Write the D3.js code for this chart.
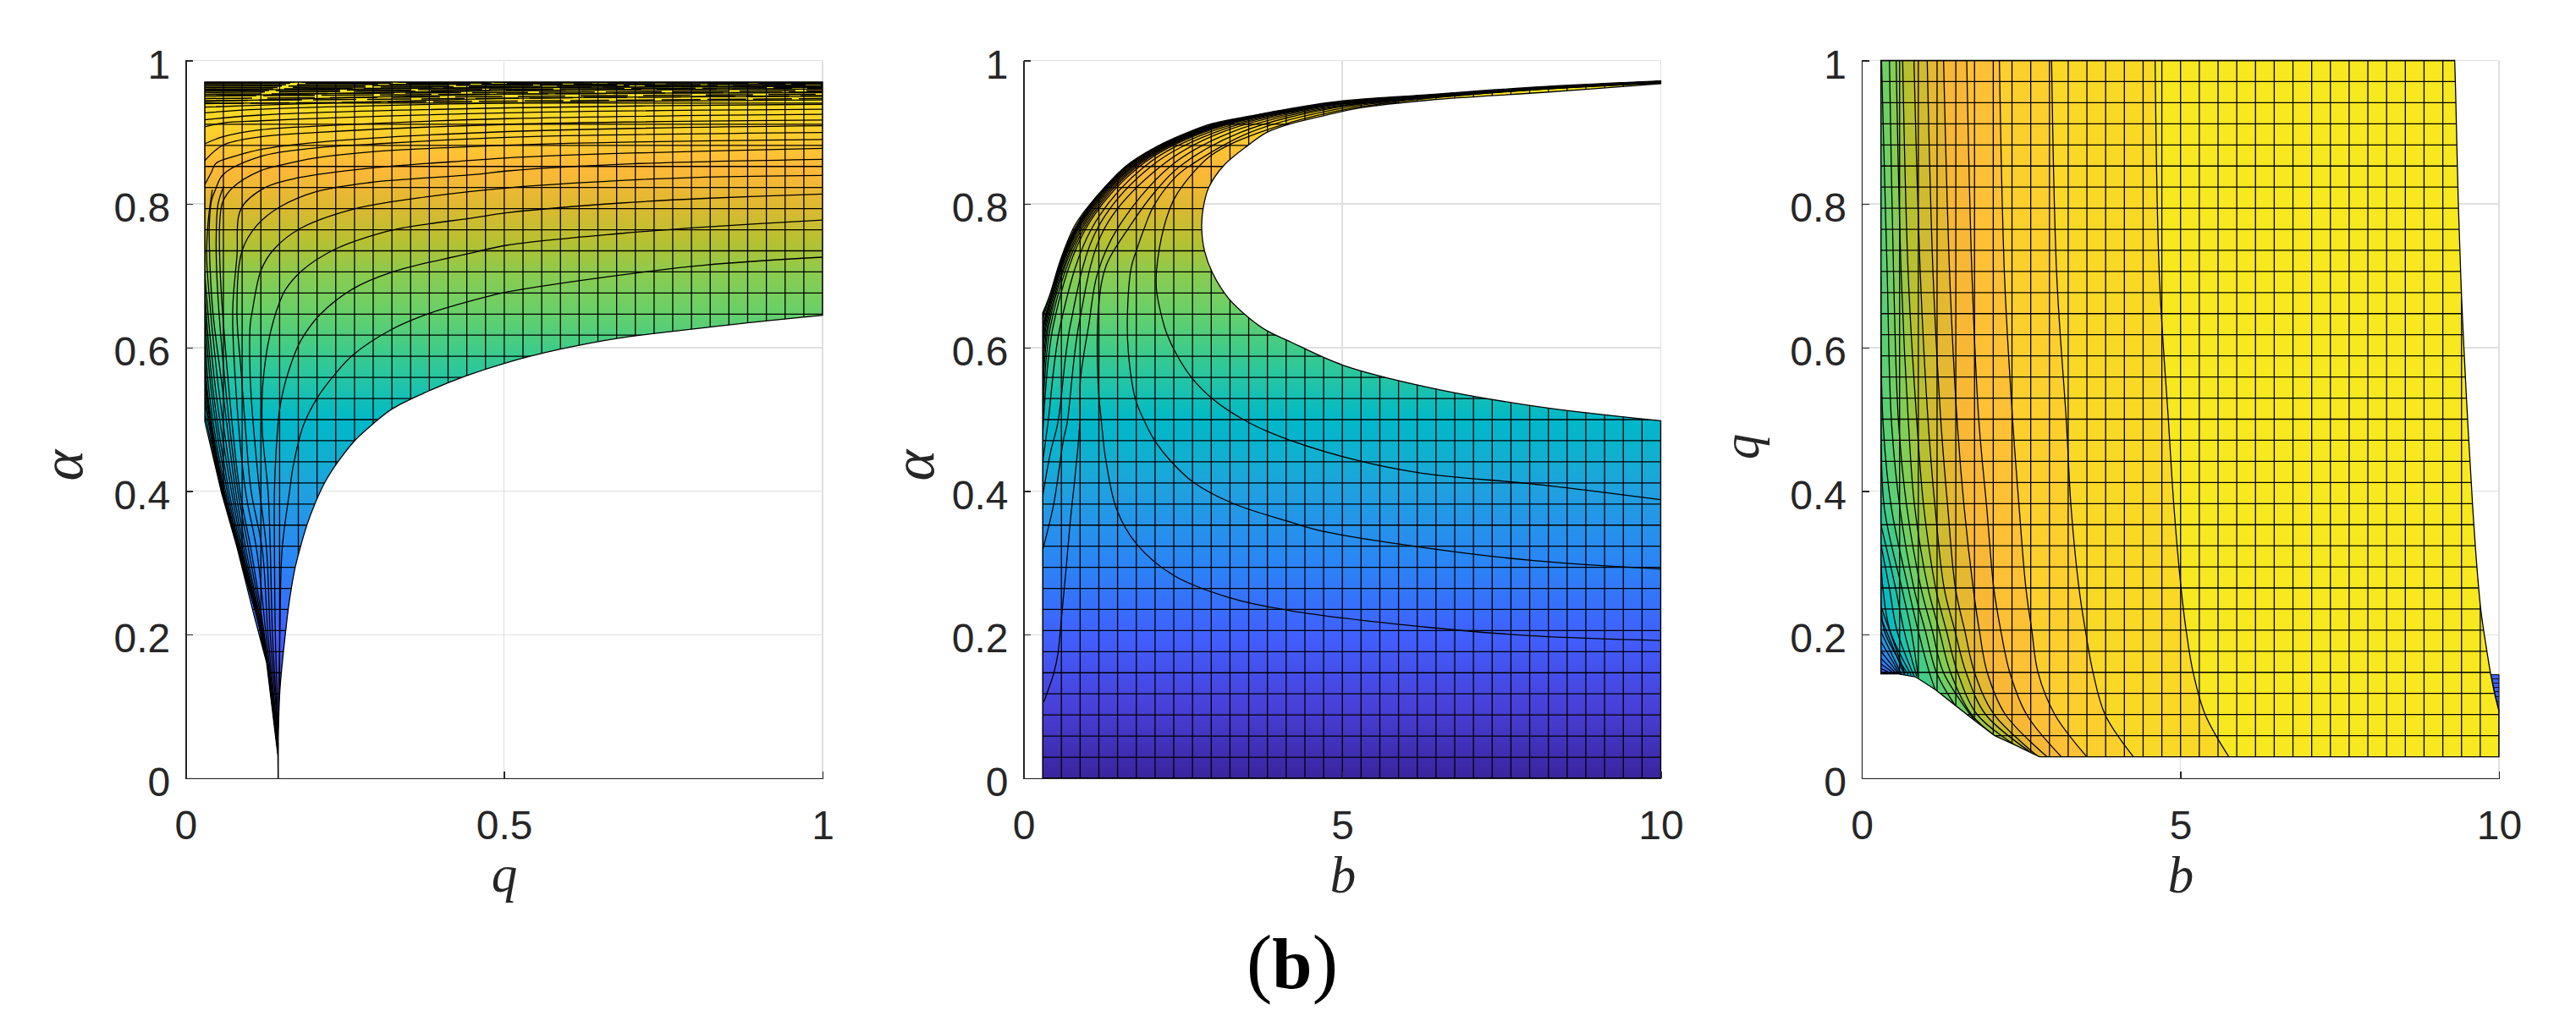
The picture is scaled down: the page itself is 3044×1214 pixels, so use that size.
<!DOCTYPE html>
<html><head><meta charset="utf-8">
<script src="https://cdnjs.cloudflare.com/ajax/libs/d3/7.8.5/d3.min.js"></script>
<style>html,body{margin:0;padding:0;background:#fff}svg{display:block}</style>
</head><body><svg id="c" width="3044" height="1214"></svg>
<script>
// ---------- mesh grid values ----------
const alphaGrid=[0,.0294,.0588,.0882,.1176,.1470,.1764,.2058,.2352,.2645,.2939,.3233,.3527,.3821,.4115,.4409,.4703,.4997,.5291,.5585,.5879,.6173,.6467,.6761,.7055,.7348,.7642,.7936,.8230,.8524,.8818,.9112,.9406,.9700];
const qGrid=[.03,.0594,.0888,.1182,.1476,.1770,.2064,.2358,.2652,.2945,.3239,.3533,.3827,.4121,.4415,.4709,.5003,.5297,.5591,.5885,.6179,.6473,.6767,.7061,.7355,.7648,.7942,.8236,.8530,.8824,.9118,.9412,.9706,1];
const bGrid=[.3,.5939,.8879,1.1818,1.4758,1.7697,2.0636,2.3576,2.6515,2.9455,3.2394,3.5333,3.8273,4.1212,4.4152,4.7091,5.0030,5.2970,5.5909,5.8848,6.1788,6.4727,6.7667,7.0606,7.3545,7.6485,7.9424,8.2364,8.5303,8.8242,9.1182,9.4121,9.7061,10];
const unitTicks=[0,.2,.4,.6,.8,1];
const qTicks=[0,.5,1];
const bTicks=[0,5,10];
// ---------- colour ramp read from the surface ----------
const rampAlpha=[0,.1,.2,.3,.4,.45,.5,.55,.6,.65,.7,.75,.8,.85,.9,.95,.97];
const rampColor=["#3a249e","#4840d8","#4060ff","#2a85f5","#20a0e0","#10b0d0","#00b8c8","#20c4a8","#40cc88","#68d068","#88cc50","#b8c030","#e0b830","#ffb838","#fdd02c","#f8e020","#f6f01e"];
// ---------- panel 1 (q, alpha) ----------
const p1Right=[[.03,.97],[1,.97],[1,.645]];
const p1Lower=[[1,.645],[.8822,.6344],[.7653,.6227],[.6767,.6128],[.5886,.5979],[.5058,.5795],[.44,.5605],[.3729,.5362],[.3242,.5146],[.2932,.4930],[.2645,.4694],[.2392,.4408],[.2188,.4125],[.2033,.3830],[.1905,.3528],[.1803,.3222],[.1723,.2947],[.1661,.2652],[.1612,.2357],[.1573,.2063],[.1537,.1768],[.1480,.1218],[.1453,.0432],[.1453,0]];
const p1Left=[[.1453,0],[.1449,.0316],[.1272,.1611],[.1072,.2279],[.0806,.3222],[.0567,.3968],[.0302,.4970]];
const p1Stem=[[.1453,0],[.1453,.05]];
const p1A=[[.1453,.03],[.1462,.1],[.1480,.2],[.1515,.3182],[.1634,.4007],[.1692,.4361],[.1847,.4911],[.2069,.5303],[.2334,.5618],[.2622,.5893],[.3220,.6246],[.3818,.6474],[.4682,.6698],[.5058,.6777],[.6829,.7012],[.8158,.7150],[1,.7260]];
const p1B=[[.1453,.03],[.1449,.0825],[.1409,.2],[.1395,.3261],[.1395,.4007],[.1427,.4636],[.1471,.5107],[.1537,.5421],[.1626,.5696],[.1759,.6011],[.1869,.6187],[.2112,.6462],[.2622,.6816],[.3242,.7052],[.4526,.7327],[.5058,.7428],[.6829,.7590],[.8158,.7680],[1,.7778]];
const p1C=[[.1453,.03],[.1427,.1],[.1364,.2],[.1330,.3182],[.1294,.4007],[.1205,.4832],[.1205,.5382],[.1236,.5696],[.1294,.6050],[.1382,.6384],[.1471,.6620],[.1560,.6796],[.1825,.7071],[.2334,.7366],[.2932,.7563],[.3375,.7661],[.4526,.7810],[.5058,.7880],[.6829,.8014],[.8158,.8079],[1,.8140]];
const p1D=[[.1453,.03],[.1418,.1],[.1329,.2],[.1272,.3182],[.1161,.4007],[.1108,.4478],[.1028,.5342],[.1006,.5893],[.1015,.6325],[.1050,.6521],[.1182,.7071],[.1382,.7366],[.1803,.7661],[.2666,.7935],[.3862,.8110],[.5058,.8226],[.6829,.8328],[.8158,.8376],[1,.8399]];
const p1E=[[.1453,.03],[.1400,.1],[.1294,.2],[.1205,.3182],[.1028,.4007],[.0947,.4793],[.0873,.5657],[.0806,.6521],[.0886,.7346],[.1116,.7700],[.1471,.7955],[.2046,.8171],[.2888,.8300],[.4526,.8410],[.5058,.8462],[.7,.8560],[1,.8623]];
const p1F=[[.1453,.03],[.139,.1],[.1263,.2],[.1116,.3182],[.0940,.4007],[.0790,.5421],[.0740,.6521],[.0806,.7268],[.0872,.7936],[.1249,.8230],[.1780,.8368],[.2888,.8500],[.4526,.8610],[.5058,.8644],[.7,.8710],[1,.8776]];
const p1G=[[.1453,.03],[.138,.1],[.1236,.2],[.1028,.3182],[.0851,.4007],[.0680,.5421],[.0541,.7111],[.0541,.7818],[.0585,.8034],[.0740,.8230],[.1182,.8466],[.1470,.8536],[.2046,.8642],[.2932,.8729],[.5058,.8820],[.7,.8865],[1,.8899]];
const p1H=[[.1453,.03],[.137,.1],[.1214,.2],[.0950,.3182],[.0785,.4007],[.0580,.5421],[.0430,.6482],[.0385,.7111],[.0372,.77],[.0408,.8054],[.0474,.8211],[.0585,.8407],[.1182,.8663],[.2046,.8781],[.2932,.8835],[.5058,.8930],[1,.8997]];
const p1X1=[[.1453,.03],[.1375,.1],[.1225,.2],[.0990,.3182],[.0820,.4007],[.0630,.5421],[.0500,.6836],[.0480,.75],[.0510,.80],[.0600,.8250]];
const p1X2=[[.1453,.03],[.1363,.1],[.1210,.2],[.0920,.3182],[.0750,.4007],[.0520,.5421],[.0360,.6836],[.0330,.73],[.0360,.78],[.0420,.82]];
const p1X4=[[.1453,.03],[.1361,.1],[.1203,.2],[.0875,.3182],[.0680,.4007],[.0430,.5421],[.03,.68]];
const p1X5=[[.1453,.03],[.1199,.2],[.0850,.3182],[.0625,.4007],[.0365,.5421],[.03,.64]];
const p1X6=[[.1453,.03],[.1194,.2],[.0833,.3182],[.0597,.4007],[.0325,.5421],[.03,.60]];
const p1X7=[[.1453,.03],[.1188,.2],[.0819,.3182],[.0572,.4007],[.03,.535]];
const p1X8=[[.1453,.03],[.1185,.2],[.0812,.3182],[.0562,.4007],[.03,.51]];
const p1Jlow=[[.1453,.03],[.1365,.1],[.1205,.2],[.0895,.3182],[.0718,.4007],[.0470,.5421],[.0319,.6836],[.03,.7053]];
const p1Jup=[[.03,.8270],[.0408,.8447],[.0474,.8565],[.0762,.8663],[.1182,.8761],[.2046,.8859],[.5058,.9010],[1,.9090]];
const p1Klow=[[.1453,.03],[.1362,.1],[.1200,.2],[.0860,.3182],[.0652,.4007],[.0400,.5421],[.03,.66]];
const p1Kup=[[.03,.8603],[.0585,.8819],[.1182,.8937],[.2046,.8996],[.5058,.9110],[1,.9170]];
const p1Llow=[[.1453,.03],[.136,.1],[.1196,.2],[.0840,.3182],[.0605,.4007],[.0340,.5421],[.03,.62]];
const p1Lup=[[.03,.8839],[.0585,.8937],[.1182,.9035],[.2046,.9085],[.5058,.9190],[1,.9250]];
const p1Mlow=[[.1453,.03],[.136,.1],[.1192,.2],[.0828,.3182],[.0590,.4007],[.0315,.5421],[.03,.585]];
const p1Mup=[[.03,.9075],[.0585,.9130],[.1182,.9160],[.5058,.9270],[1,.9320]];
const p1Nlow=[[.1453,.03],[.1190,.2],[.0822,.3182],[.0578,.4007],[.03,.555]];
const p1Nup=[[.03,.9173],[.1182,.9240],[.5058,.9340],[1,.9390]];
const p1Olow=[[.1453,.03],[.1187,.2],[.0817,.3182],[.0568,.4007],[.03,.525]];
const p1Oup=[[.03,.9271],[.1182,.9320],[.5058,.9410],[1,.9450]];
const p1Pup=[[.03,.9350],[.5058,.9470],[1,.9500]];
const p1Qup=[[.03,.9428],[.5058,.9530],[1,.9550]];
const p1Rup=[[.03,.9507],[.5058,.9580],[1,.9600]];
const p1Sup=[[.03,.9586],[.5058,.9620],[1,.9640]];
const p1Curves=[p1A,p1B,p1C,p1D,p1E,p1F,p1G,p1H,p1X1,p1X2,p1X4,p1X5,p1X6,p1X7,p1X8,p1Jlow,p1Jup,p1Klow,p1Kup,p1Llow,p1Lup,p1Mlow,p1Mup,p1Nlow,p1Nup,p1Olow,p1Oup,p1Pup,p1Qup,p1Rup,p1Sup];
// the nearly flat lines packed at the top of panel 1 (start and end alpha)
const topBandStart=[.9400,.9440,.9470,.9505,.9530,.9555,.9575,.9600,.9620,.9640,.9660,.9680,.9695];
const topBandEnd=[.9470,.9510,.9530,.9560,.9580,.9610,.9625,.9645,.9655,.9670,.9680,.9690,.9698];
// ---------- panel 2 (b, alpha) ----------
const p2Outer=[[.3,.6483],[.4051,.6718],[.5821,.7229],[.8035,.7700],[1.025,.7977],[1.268,.8230],[1.60,.8525],[2.087,.8799],[2.574,.8997],[2.97,.9122],[3.548,.9225],[4.169,.9327],[5.008,.9437],[6.248,.9519],[8.152,.9636],[10,.9716]];
const p2Hole=[[10,.9676],[8.152,.9555],[6.38,.9449],[5.296,.9342],[4.72,.9232],[4.10,.9095],[3.813,.8997],[3.525,.8820],[3.15,.8544],[2.906,.8230],[2.818,.7936],[2.796,.7661],[2.84,.7347],[2.97,.7032],[3.216,.6687],[3.525,.6424],[3.813,.6239],[4.169,.6089],[5.008,.5757],[6.38,.5441],[8.019,.5185],[10,.4981]];
const p2Base=[[10,.4981],[10,0],[.3,0],[.3,.6483]];
const p2Z3=[[10,.3881],[8.152,.4086],[6.248,.4251],[5.275,.4420],[4.169,.4714],[3.548,.4950],[2.97,.5284],[2.64,.5579],[2.396,.5913],[2.242,.6208],[2.154,.6483],[2.087,.6797],[2.087,.7071],[2.198,.7661],[2.353,.8054],[2.508,.8270],[2.95,.8682],[3.7,.8997],[5.1,.9327],[7.5,.9560],[10,.9685]];
const p2Z2=[[10,.2915],[8,.3033],[6.38,.3202],[4.72,.3437],[4.169,.3575],[3.283,.3830],[2.663,.4125],[2.309,.4420],[2.065,.4695],[1.91,.4950],[1.755,.5284],[1.645,.5933],[1.631,.6483],[1.689,.7112],[1.769,.7347],[1.91,.7700],[2.043,.7975],[2.397,.8387],[2.66,.8564],[3.55,.8997],[4.95,.9327],[7.3,.9550],[10,.9690]];
const p2Z1=[[10,.192],[8,.1985],[6.38,.2101],[4.169,.2337],[3.238,.2514],[2.353,.2829],[1.777,.3261],[1.467,.3733],[1.29,.4440],[1.224,.4950],[1.17,.55],[1.18,.6600],[1.30,.7150],[1.645,.7661],[2.043,.8150],[2.45,.8525],[3.4,.8997],[4.8,.9327],[7.1,.9540],[10,.9695]];
const p2Z0=[[.3164,.1061],[.4715,.1455],[.5378,.1729],[.6042,.2318],[.6708,.2947],[.7371,.3614],[.8035,.4164],[.8832,.4950],[.892,.5541],[1.025,.6326],[1.16,.7032],[1.476,.7661],[2.3,.8525],[3.25,.8997],[4.7,.9327],[7,.9535],[10,.9698]];
const p2Y0=[[.3,.3182],[.4715,.3811],[.6261,.4714],[.684,.4950],[.8697,.6326],[1.27,.7661],[2.15,.8525],[3.1,.8997],[4.6,.9327],[6.9,.9520],[10,.9700]];
const p2Y1=[[.3,.3929],[.427,.4557],[.538,.4950],[.737,.6326],[1.16,.7661],[2.0,.8525],[3.0,.8997],[4.5,.9327],[6.8,.9525],[10,.9703]];
const p2Y2=[[.3,.44],[.3831,.4950],[.582,.6326],[1.07,.7661],[1.9,.8525],[2.9,.8997],[4.45,.9327],[6.7,.9530],[10,.9705]];
const p2Y3=[[.3,.4754],[.471,.6326],[.98,.7661],[1.82,.8525],[2.82,.8997],[4.4,.9327],[6.6,.9525],[10,.9708]];
const p2Y4=[[.3,.52],[.40,.6326],[.92,.7661],[1.75,.8525],[2.75,.8997],[4.35,.9327],[6.5,.9522],[10,.971]];
const p2Y5=[[.3,.56],[.36,.6326],[.87,.7661],[1.7,.8525],[2.7,.8997],[4.3,.9327],[6.45,.9524],[10,.9712]];
const p2Y6=[[.3,.60],[.33,.6326],[.84,.7661],[1.65,.8525],[2.65,.8997],[4.25,.9327],[6.4,.9522],[10,.9714]];
const p2Y7=[[.3,.63],[.82,.7661],[1.62,.8525],[2.62,.8997],[4.2,.9327],[6.35,.9520],[10,.9716]];
const p2W1=[[.3,.4950],[.43,.6326],[.95,.7661],[1.78,.8525],[2.78,.8997],[4.37,.9327],[6.55,.9524],[10,.9709]];
const p2W2=[[.3,.5400],[.38,.6326],[.895,.7661],[1.72,.8525],[2.72,.8997],[4.32,.9327],[6.47,.9524],[10,.9711]];
const p2W3=[[.3,.58],[.345,.6326],[.855,.7661],[1.675,.8525],[2.67,.8997],[4.27,.9327],[6.42,.9522],[10,.9713]];
const p2W4=[[.3,.615],[.32,.6326],[.83,.7661],[1.635,.8525],[2.635,.8997],[4.22,.9327],[6.37,.9521],[10,.9715]];
const p2W5=[[.3,.638],[.812,.7661],[1.612,.8525],[2.60,.8997],[4.19,.9327],[6.30,.9520]];
const p2W6=[[.3,.644],[.808,.7661],[1.605,.8525],[2.585,.8997],[4.18,.9327],[6.27,.9520]];
const p2Curves=[p2Z3,p2Z2,p2Z1,p2Z0,p2Y0,p2Y1,p2Y2,p2Y3,p2Y4,p2Y5,p2Y6,p2Y7,p2W1,p2W2,p2W3,p2W4,p2W5,p2W6];
// ---------- panel 3 (b, q) ----------
const p3Lower=[[.3,.1453],[.5754,.1453],[.841,.1414],[1.151,.1238],[1.461,.1021],[1.771,.0805],[2.081,.0597],[2.391,.0471],[2.789,.03]];
const p3Corner=[[2.789,.03],[10,.03],[10,.0938]];
const p3Rim=[[10,.0938],[9.938,.1155],[9.872,.1438],[9.806,.1795],[9.717,.2330],[9.651,.2972],[9.584,.3829],[9.518,.4829],[9.451,.5971],[9.407,.6828],[9.363,.7970],[9.318,.9611],[9.305,1]];
const p3Top=[[9.305,1],[.3,1],[.3,.1453]];
const p3Sliver=[[9.872,.1445],[10,.1445],[10,.0938]];
const sliverQ=[.1445,.1385,.1325,.1265,.1205,.1135,.1065,.1000];
const contourAlpha=[.9412,.9118,.8824,.8529,.8235,.7941,.7647,.7353,.7059,.6765,.6471,.6176,.5882,.5588,.5294,.5,.4706,.4412,.4118,.3824,.3529,.3235,.2941,.2647,.2059,.1471];
const c94=[[4.604,1],[4.67,.7],[4.812,.499],[4.900,.3771],[5.011,.2648],[5.091,.2057],[5.201,.1471],[5.391,.0884],[5.768,.029]];
const c91=[[2.979,1],[3.06,.7],[3.209,.499],[3.285,.3771],[3.409,.2648],[3.510,.2057],[3.630,.1471],[3.820,.0884],[4.272,.029]];
const c88=[[2.160,1],[2.24,.7],[2.368,.499],[2.470,.3771],[2.576,.2648],[2.669,.2057],[2.767,.1471],[3.032,.0884],[3.541,.029]];
const c85=[[1.647,1],[1.73,.7],[1.837,.499],[1.961,.3771],[2.072,.2648],[2.182,.2057],[2.324,.1471],[2.590,.0884],[3.143,.029]];
const c82=[[1.284,1],[1.38,.7],[1.496,.499],[1.607,.3771],[1.749,.2648],[1.846,.2057],[1.970,.1471],[2.258,.0884],[2.922,.029]];
const c79=[[1.027,1],[1.12,.7],[1.240,.499],[1.350,.3771],[1.470,.2648],[1.616,.2057],[1.771,.1471],[2.081,.0884],[2.789,.029]];
const c76=[[.819,1],[.92,.7],[1.040,.499],[1.151,.3771],[1.293,.2648],[1.461,.2057],[1.638,.1471],[1.948,.0884],[2.634,.0373]];
const c735=[[.642,1],[.73,.7],[.863,.499],[.974,.3771],[1.160,.2648],[1.328,.2057],[1.505,.1471],[1.815,.0884],[2.39,.0471]];
const c706=[[.540,1],[.62,.7],[.730,.499],[.832,.3771],[1.040,.2648],[1.217,.2057],[1.394,.1471],[1.726,.0884],[2.081,.0597]];
const c676=[[.434,1],[.50,.7],[.575,.499],[.708,.3771],[.930,.2648],[1.107,.2057],[1.284,.1471],[1.771,.0805]];
const c647=[[.31,1],[.40,.7],[.465,.499],[.598,.3771],[.819,.2648],[.996,.2057],[1.173,.1471],[1.461,.1021]];
const c618=[[.3,.6993],[.332,.499],[.465,.3771],[.730,.2648],[.885,.2057],[1.062,.1471],[1.151,.1238]];
const c588=[[.3,.5186],[.354,.3771],[.629,.2648],[.775,.2057],[.885,.1414]];
const c559=[[.3,.3536],[.531,.2648],[.664,.2057],[.863,.1420]];
const c529=[[.3,.3260],[.434,.2648],[.553,.2057],[.819,.1430]];
const c500=[[.3,.3044],[.332,.2648],[.443,.2057],[.775,.1440]];
const c471=[[.3,.2710],[.354,.2057],[.73,.1445]];
const c441=[[.3,.2396],[.68,.1450]];
const c412=[[.3,.2239],[.664,.1453]];
const c382=[[.3,.2044],[.62,.1453]];
const c353=[[.3,.1906],[.6,.1453]];
const c324=[[.3,.1771],[.58,.1453]];
const c294=[[.3,.1672],[.55,.1453]];
const c265=[[.3,.1594],[.52,.1453]];
const c206=[[.3,.1530],[.48,.1453]];
const c147=[[.3,.148],[.42,.1453]];
const contours=[c94,c91,c88,c85,c82,c79,c76,c735,c706,c676,c647,c618,c588,c559,c529,c500,c471,c441,c412,c382,c353,c324,c294,c265,c206,c147];

// ---------- drawing ----------
const svg=d3.select("#c");
const defs=svg.append("defs");
const color=d3.scaleLinear().domain(rampAlpha).range(rampColor).interpolate(d3.interpolateRgb);
const axTop=71.5,axBot=920;
const INK="#262626",GRID="#e0e0e0",FONT="'Liberation Sans',Arial,sans-serif",SERIF="'Liberation Serif',serif";
const tf=v=>String(v);

function panel(id,left,right,xDom,xTicks,yTicks){
  const x=d3.scaleLinear().domain(xDom).range([left,right]);
  const y=d3.scaleLinear().domain([0,1]).range([axBot,axTop]);
  const g=svg.append("g").attr("id",id);
  const gr=g.append("g").attr("stroke",GRID).attr("stroke-width",1.6).attr("shape-rendering","crispEdges");
  gr.selectAll(".v").data(xTicks).join("line").attr("class","v").attr("x1",d=>x(d)).attr("x2",d=>x(d)).attr("y1",axBot).attr("y2",axTop);
  gr.selectAll(".h").data(yTicks).join("line").attr("class","h").attr("y1",d=>y(d)).attr("y2",d=>y(d)).attr("x1",left).attr("x2",right);
  const smooth=d3.line().x(d=>x(d[0])).y(d=>y(d[1])).curve(d3.curveCatmullRom.alpha(.5));
  const straight=d3.line().x(d=>x(d[0])).y(d=>y(d[1]));
  const joined=segs=>segs.map((s,i)=>{const str=(s[1]?smooth:straight)(s[0]);return i?("L"+str.slice(1)):str;}).join("")+"Z";
  return {x,y,g,smooth,straight,joined};
}
function addAxes(p,xTicks,yTicks,xLabel,yLabel,xlx,xly,ylx,yly,ylSize){
  const ax=p.g.append("g");
  const bx=ax.append("g").attr("transform",`translate(0,${axBot})`).call(d3.axisBottom(p.x).tickValues(xTicks).tickFormat(tf).tickSizeInner(-8.5).tickSizeOuter(0).tickPadding(38));
  const by=ax.append("g").attr("transform",`translate(${p.x.range()[0]},0)`).call(d3.axisLeft(p.y).tickValues(yTicks).tickFormat(tf).tickSizeInner(-8.5).tickSizeOuter(0).tickPadding(18));
  [bx,by].forEach(a=>{a.selectAll("path").attr("stroke",INK).attr("stroke-width",1.8).attr("shape-rendering","crispEdges");
    a.selectAll("line").attr("stroke",INK).attr("stroke-width",1.4).attr("shape-rendering","crispEdges");
    a.selectAll("text").attr("fill",INK).style("font-family",FONT).style("font-size","48px");});
  by.selectAll("text").attr("dy",".43em");
  p.g.append("text").attr("x",xlx).attr("y",xly).attr("text-anchor","middle").style("font-family",SERIF).style("font-style","italic").style("font-size","61px").attr("fill",INK).text(xLabel);
  p.g.append("text").attr("transform",`translate(${ylx},${yly}) rotate(-90)`).attr("text-anchor","middle").style("font-family",SERIF).style("font-style","italic").style("font-size",ylSize+"px").attr("fill",INK).text(yLabel);
}
function gradient(id,y){
  const gd=defs.append("linearGradient").attr("id",id).attr("gradientUnits","userSpaceOnUse").attr("x1",0).attr("x2",0).attr("y1",y(0)).attr("y2",y(1));
  rampAlpha.forEach((a,i)=>gd.append("stop").attr("offset",a).attr("stop-color",rampColor[i]));
}
function mesh(p,clip,xs,ys){
  const m=p.g.append("g").attr("clip-path",`url(#${clip})`).attr("stroke","#000").attr("stroke-width",1.3);
  m.selectAll(".gx").data(xs).join("line").attr("class","gx").attr("x1",d=>p.x(d)).attr("x2",d=>p.x(d)).attr("y1",axTop).attr("y2",axBot);
  m.selectAll(".gy").data(ys).join("line").attr("class","gy").attr("y1",d=>p.y(d)).attr("y2",d=>p.y(d)).attr("x1",p.x.range()[0]).attr("x2",p.x.range()[1]);
}
function curves(p,clip,list){
  p.g.append("g").attr("clip-path",`url(#${clip})`).selectAll("path").data(list).join("path")
    .attr("d",d=>p.smooth(d)).attr("fill","none").attr("stroke","#000").attr("stroke-width",1.3);
}

// panel 1
{
  const p=panel("p1",219.3,972,[0,1],qTicks,unitTicks);
  gradient("g1",p.y);
  const d=p.joined([[p1Right,false],[p1Lower,true],[p1Left,false]]);
  defs.append("clipPath").attr("id","c1").append("path").attr("d",d);
  p.g.append("path").attr("d",d).attr("fill","url(#g1)");
  mesh(p,"c1",qGrid,alphaGrid);
  curves(p,"c1",p1Curves);
  p.g.append("g").attr("clip-path","url(#c1)").selectAll("line").data(topBandStart).join("line")
    .attr("x1",p.x(.03)).attr("x2",p.x(1)).attr("y1",v=>p.y(v)).attr("y2",(v,i)=>p.y(topBandEnd[i]))
    .attr("stroke","#000").attr("stroke-width",1.5).attr("stroke-dasharray",(v,i)=>`${46+i*5} ${8+i%3*5}`);
  p.g.append("path").attr("d",d).attr("fill","none").attr("stroke","#000").attr("stroke-width",1.3);
  p.g.append("path").attr("d",p.straight(p1Stem)).attr("stroke","#000").attr("stroke-width",1.3);
  addAxes(p,qTicks,unitTicks,"q","α",596,1054,97,550,70);
}
// panel 2
{
  const p=panel("p2",1209.5,1962.5,[0,10],bTicks,unitTicks);
  gradient("g2",p.y);
  const d=p.joined([[p2Outer,true],[p2Hole,true],[p2Base,false]]);
  defs.append("clipPath").attr("id","c2").append("path").attr("d",d);
  p.g.append("path").attr("d",d).attr("fill","url(#g2)");
  mesh(p,"c2",bGrid,alphaGrid);
  curves(p,"c2",p2Curves);
  p.g.append("path").attr("d",d).attr("fill","none").attr("stroke","#000").attr("stroke-width",1.3);
  addAxes(p,bTicks,unitTicks,"b","α",1587,1055,1103,550,70);
}
// panel 3
{
  const p=panel("p3",2200,2953,[0,10],bTicks,unitTicks);
  const d=p.joined([[p3Lower,false],[p3Corner,false],[p3Rim,true],[p3Top,false]]);
  defs.append("clipPath").attr("id","c3").append("path").attr("d",d);
  p.g.append("path").attr("d",d).attr("fill",color(.96));
  const band=p.g.append("g").attr("clip-path","url(#c3)");
  contours.forEach((c,i)=>{
    const closing=[c[c.length-1],[0,0],[0,c[0][1]]];
    band.append("path").attr("d",p.joined([[c,true],[closing,false]])).attr("fill",color(contourAlpha[i]-.0147));
  });
  mesh(p,"c3",bGrid,qGrid);
  curves(p,"c3",contours);
  p.g.append("path").attr("d",d).attr("fill","none").attr("stroke","#000").attr("stroke-width",1.3);
  const s=p.straight(p3Sliver)+"Z";
  defs.append("clipPath").attr("id","c3b").append("path").attr("d",s);
  p.g.append("path").attr("d",s).attr("fill",color(.2)).attr("stroke","#000").attr("stroke-width",1);
  p.g.append("g").attr("clip-path","url(#c3b)").selectAll("line").data(sliverQ).join("line")
    .attr("x1",p.x(9.8)).attr("x2",p.x(10)).attr("y1",v=>p.y(v)).attr("y2",v=>p.y(v)).attr("stroke","#111").attr("stroke-width",1).attr("shape-rendering","crispEdges");
  addAxes(p,bTicks,unitTicks,"b","q",2577,1055,2078,528,61);
}
const cap=svg.append("text").attr("x",1527).attr("y",1168).attr("text-anchor","middle").style("font-family",SERIF).attr("fill","#000").style("font-size","91px");
cap.append("tspan").text("(");
cap.append("tspan").style("font-weight","bold").style("font-size","85px").text("b");
cap.append("tspan").text(")");
</script></body></html>
